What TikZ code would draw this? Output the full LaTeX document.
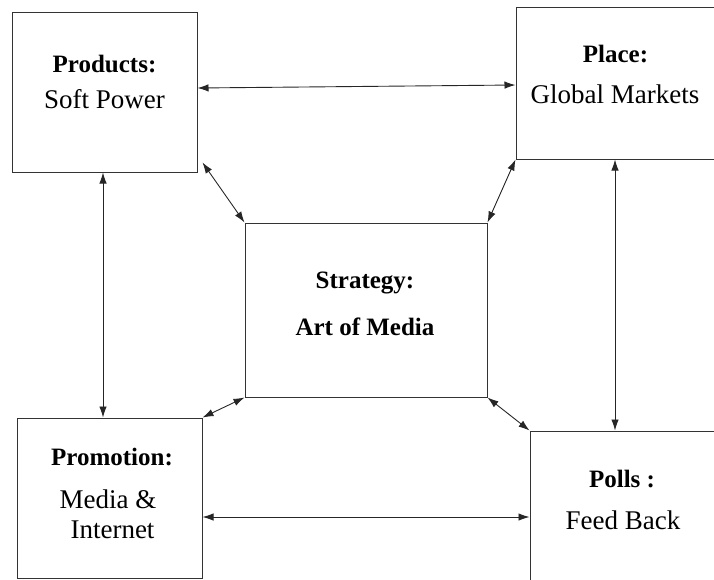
\documentclass[tikz,border=0pt]{standalone}
\usepackage{fontspec}
\setmainfont{Liberation Serif}
\usetikzlibrary{arrows.meta,shapes,positioning}

\begin{document}
\begin{tikzpicture}[x=1pt,y=-1pt,<->,>={Latex[length=11pt,width=7.5pt]},
                    line width=0.9pt,draw=black!85]
\tikzstyle{feld}=[rectangle,draw=black!80,line width=1pt,inner sep=0pt]
\tikzstyle{titel}=[inner sep=0pt,anchor=base,font=\fontsize{25}{28}\selectfont\bfseries]
\tikzstyle{inhalt}=[inner sep=0pt,anchor=base,font=\fontsize{27}{30}\selectfont]
\useasboundingbox (0,0) rectangle (714,579);
\node[feld,minimum width=185,minimum height=160] (products) at (104.5,92) {};
\node[feld,minimum width=198,minimum height=152] (place) at (615,83) {};
\node[feld,minimum width=242,minimum height=174] (strategy) at (366,310) {};
\node[feld,minimum width=185,minimum height=160] (promotion) at (109.5,498) {};
\node[feld,minimum width=186,minimum height=160] (polls) at (623,511) {};
\node[titel] (productsT) at (104.5,72) {Products:};
\node[inhalt] (productsI) at (104.5,108) {Soft Power};
\node[titel] (placeT) at (615.5,62) {Place:};
\node[inhalt] (placeI) at (615,103) {Global Markets};
\node[titel] (strategyT) at (365,288) {Strategy:};
\node[titel] (strategyI) at (365,335) {Art of Media};
\node[titel] (promotionT) at (112,465) {Promotion:};
\node[inhalt] (promotionI) at (108,508) {Media \&};
\node[inhalt] (promotionJ) at (112.5,538) {Internet};
\node[titel] (pollsT) at (622,487) {Polls :};
\node[inhalt] (pollsI) at (623,529) {Feed Back};
% Verbindungen
\draw ([yshift=4pt]products.east) -- ([yshift=-2pt]place.west);
\draw ([shift={(5,-10)}]products.south east) -- (strategy.north west);
\draw (place.south west) -- (strategy.north east);
\draw ([xshift=-1.5pt]products.south) -- ([xshift=-1.5pt]products.south |- promotion.north);
\draw (place.south) -- (place.south |- polls.north);
\draw (strategy.south west) -- (promotion.north east);
\draw (strategy.south east) -- (polls.north west);
\coordinate (mitte) at ([yshift=-19pt]promotion.east);
\draw (mitte) -- (mitte -| polls.west);
\end{tikzpicture}
\end{document}
